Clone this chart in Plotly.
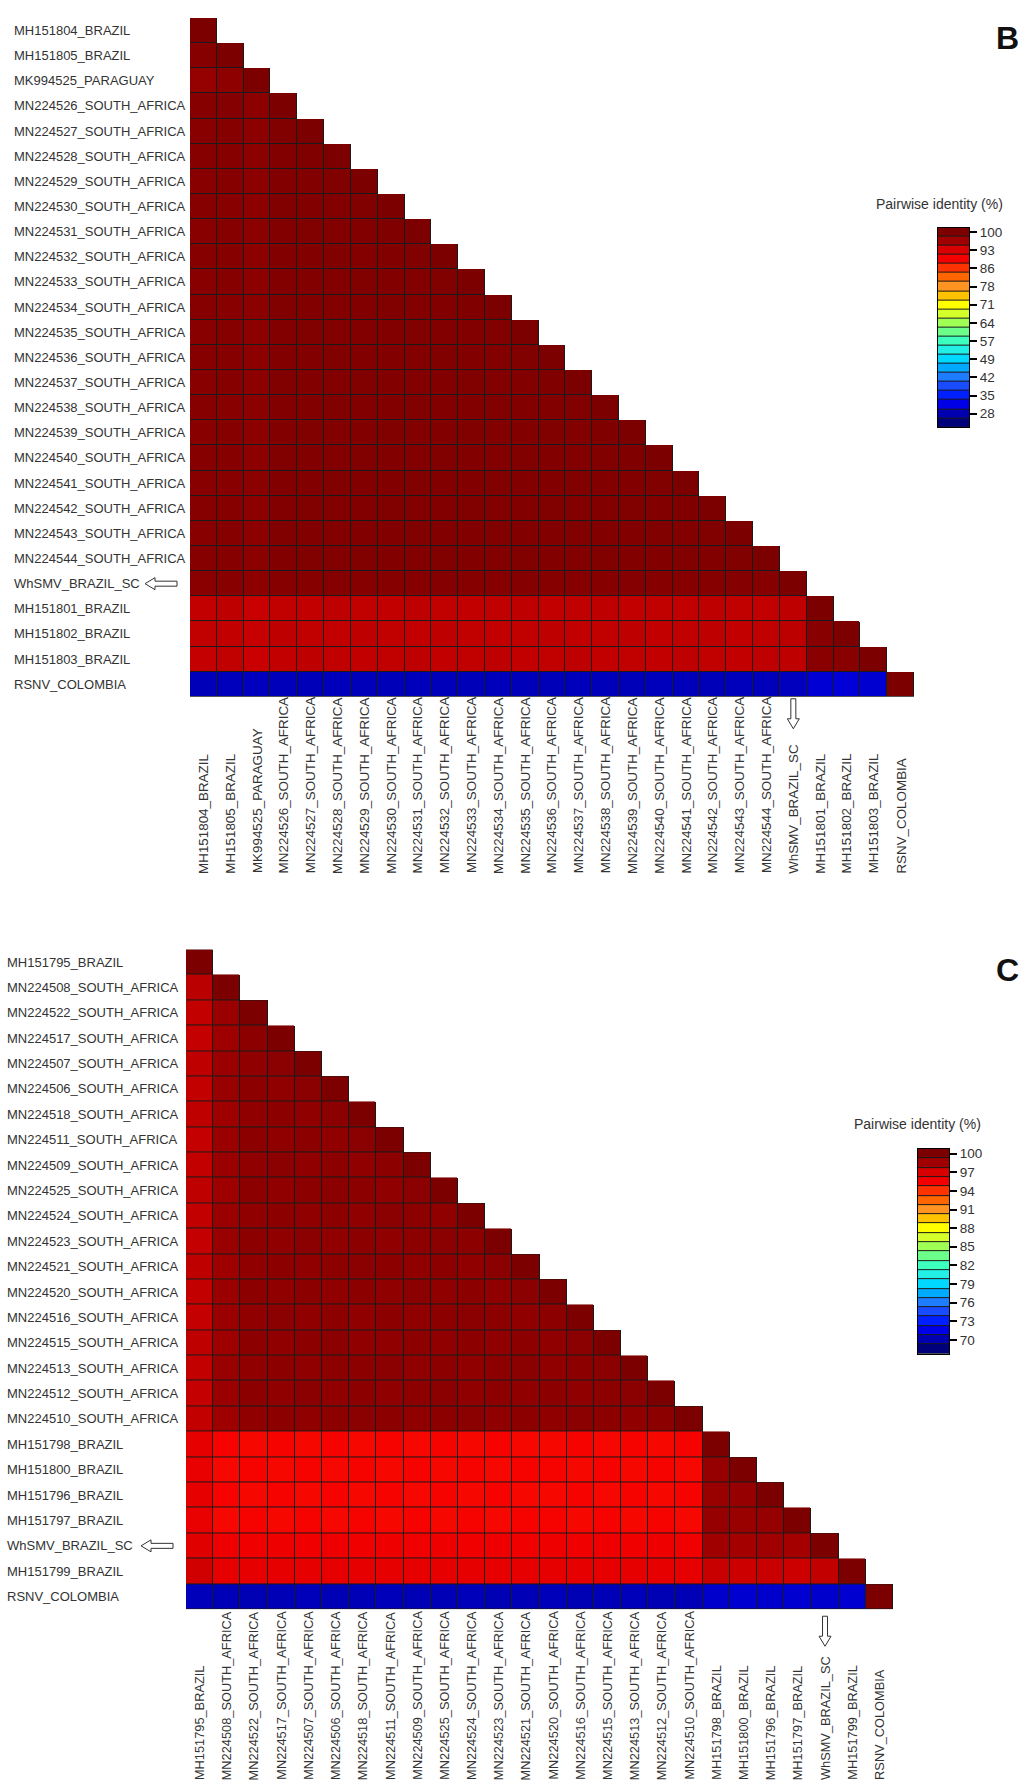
import plotly.graph_objects as go
import numpy as np

W, H = 1021, 1782

# ---------------- data: panel B ----------------
labels_B = [
    "MH151804_BRAZIL", "MH151805_BRAZIL", "MK994525_PARAGUAY",
    "MN224526_SOUTH_AFRICA", "MN224527_SOUTH_AFRICA", "MN224528_SOUTH_AFRICA",
    "MN224529_SOUTH_AFRICA", "MN224530_SOUTH_AFRICA", "MN224531_SOUTH_AFRICA",
    "MN224532_SOUTH_AFRICA", "MN224533_SOUTH_AFRICA", "MN224534_SOUTH_AFRICA",
    "MN224535_SOUTH_AFRICA", "MN224536_SOUTH_AFRICA", "MN224537_SOUTH_AFRICA",
    "MN224538_SOUTH_AFRICA", "MN224539_SOUTH_AFRICA", "MN224540_SOUTH_AFRICA",
    "MN224541_SOUTH_AFRICA", "MN224542_SOUTH_AFRICA", "MN224543_SOUTH_AFRICA",
    "MN224544_SOUTH_AFRICA", "WhSMV_BRAZIL_SC", "MH151801_BRAZIL",
    "MH151802_BRAZIL", "MH151803_BRAZIL", "RSNV_COLOMBIA",
]

identity_B = [
    [100],
    [99.1, 100],
    [97.5, 98.2, 100],
    [99.0, 99.2, 98.5, 100],
    [98.9, 99.1, 98.4, 99.6, 100],
    [99.0, 99.0, 98.6, 99.5, 99.7, 100],
    [98.8, 99.1, 98.4, 99.4, 99.5, 99.6, 100],
    [99.0, 98.9, 98.5, 99.6, 99.4, 99.5, 99.6, 100],
    [98.9, 99.0, 98.6, 99.5, 99.6, 99.4, 99.5, 99.7, 100],
    [99.1, 99.0, 98.4, 99.4, 99.5, 99.6, 99.3, 99.5, 99.6, 100],
    [98.9, 99.1, 98.5, 99.5, 99.4, 99.5, 99.6, 99.4, 99.5, 99.6, 100],
    [99.0, 98.9, 98.6, 99.6, 99.5, 99.4, 99.5, 99.6, 99.4, 99.5, 99.7, 100],
    [98.9, 99.0, 98.4, 99.4, 99.6, 99.5, 99.4, 99.5, 99.6, 99.4, 99.5, 99.6, 100],
    [99.0, 99.1, 98.5, 99.5, 99.4, 99.6, 99.5, 99.4, 99.5, 99.6, 99.4, 99.5, 99.6, 100],
    [98.8, 99.0, 98.5, 99.6, 99.5, 99.4, 99.6, 99.5, 99.4, 99.5, 99.6, 99.4, 99.5, 99.7, 100],
    [99.0, 98.9, 98.6, 99.4, 99.5, 99.6, 99.4, 99.5, 99.6, 99.4, 99.5, 99.6, 99.4, 99.5, 99.6, 100],
    [98.9, 99.1, 98.4, 99.5, 99.6, 99.5, 99.4, 99.6, 99.5, 99.4, 99.6, 99.5, 99.4, 99.6, 99.5, 99.7, 100],
    [99.1, 99.0, 98.5, 99.6, 99.4, 99.5, 99.6, 99.4, 99.5, 99.6, 99.4, 99.5, 99.6, 99.4, 99.5, 99.6, 99.7, 100],
    [98.9, 98.9, 98.6, 99.4, 99.5, 99.6, 99.5, 99.4, 99.6, 99.5, 99.4, 99.6, 99.5, 99.4, 99.6, 99.5, 99.4, 99.6, 100],
    [99.0, 99.0, 98.4, 99.5, 99.6, 99.4, 99.5, 99.6, 99.4, 99.5, 99.6, 99.4, 99.5, 99.6, 99.4, 99.5, 99.6, 99.5, 99.7, 100],
    [98.8, 99.1, 98.5, 99.6, 99.5, 99.5, 99.4, 99.5, 99.6, 99.4, 99.5, 99.6, 99.4, 99.5, 99.6, 99.4, 99.5, 99.6, 99.4, 99.6, 100],
    [99.0, 99.0, 98.6, 99.4, 99.6, 99.5, 99.6, 99.4, 99.5, 99.6, 99.4, 99.5, 99.6, 99.4, 99.5, 99.6, 99.4, 99.5, 99.6, 99.5, 99.6, 100],
    [98.7, 98.8, 98.3, 99.1, 99.0, 99.2, 99.1, 99.0, 99.1, 99.2, 99.0, 99.1, 99.2, 99.0, 99.1, 99.0, 99.2, 99.1, 99.0, 99.1, 99.2, 99.1, 100],
    [94.2, 94.4, 93.8, 94.3, 94.2, 94.4, 94.3, 94.2, 94.4, 94.3, 94.2, 94.3, 94.4, 94.2, 94.3, 94.4, 94.2, 94.3, 94.2, 94.4, 94.3, 94.2, 94.5, 100],
    [94.3, 94.2, 93.9, 94.4, 94.3, 94.2, 94.4, 94.3, 94.2, 94.4, 94.3, 94.2, 94.3, 94.4, 94.2, 94.3, 94.4, 94.2, 94.3, 94.4, 94.2, 94.3, 94.6, 98.9, 100],
    [94.1, 94.3, 93.7, 94.2, 94.4, 94.3, 94.2, 94.3, 94.4, 94.2, 94.3, 94.4, 94.2, 94.3, 94.4, 94.2, 94.3, 94.2, 94.4, 94.3, 94.2, 94.4, 94.5, 98.7, 98.8, 100],
    [28.6, 28.8, 28.9, 28.7, 28.6, 28.8, 28.7, 28.6, 28.8, 28.7, 28.6, 28.8, 28.7, 28.6, 28.8, 28.7, 28.6, 28.8, 28.7, 28.6, 28.8, 28.7, 28.9, 30.4, 30.6, 30.2, 100],
]

ticks_B = ["100", "93", "86", "78", "71", "64", "57", "49", "42", "35", "28"]

# ---------------- data: panel C ----------------
labels_C = [
    "MH151795_BRAZIL", "MN224508_SOUTH_AFRICA", "MN224522_SOUTH_AFRICA",
    "MN224517_SOUTH_AFRICA", "MN224507_SOUTH_AFRICA", "MN224506_SOUTH_AFRICA",
    "MN224518_SOUTH_AFRICA", "MN224511_SOUTH_AFRICA", "MN224509_SOUTH_AFRICA",
    "MN224525_SOUTH_AFRICA", "MN224524_SOUTH_AFRICA", "MN224523_SOUTH_AFRICA",
    "MN224521_SOUTH_AFRICA", "MN224520_SOUTH_AFRICA", "MN224516_SOUTH_AFRICA",
    "MN224515_SOUTH_AFRICA", "MN224513_SOUTH_AFRICA", "MN224512_SOUTH_AFRICA",
    "MN224510_SOUTH_AFRICA", "MH151798_BRAZIL", "MH151800_BRAZIL",
    "MH151796_BRAZIL", "MH151797_BRAZIL", "WhSMV_BRAZIL_SC",
    "MH151799_BRAZIL", "RSNV_COLOMBIA",
]

identity_C = [
    [100],
    [97.8, 100],
    [97.6, 98.7, 100],
    [97.5, 98.6, 99.3, 100],
    [97.7, 98.7, 99.2, 99.4, 100],
    [97.6, 98.8, 99.3, 99.2, 99.4, 100],
    [97.7, 98.6, 99.2, 99.3, 99.2, 99.4, 100],
    [97.5, 98.7, 99.3, 99.2, 99.3, 99.2, 99.4, 100],
    [97.6, 98.7, 99.2, 99.4, 99.2, 99.3, 99.2, 99.3, 100],
    [97.7, 98.6, 99.3, 99.2, 99.3, 99.4, 99.3, 99.2, 99.4, 100],
    [97.6, 98.7, 99.2, 99.3, 99.2, 99.3, 99.2, 99.4, 99.3, 99.2, 100],
    [97.5, 98.8, 99.3, 99.2, 99.4, 99.2, 99.3, 99.2, 99.3, 99.4, 99.3, 100],
    [97.7, 98.6, 99.2, 99.3, 99.2, 99.3, 99.4, 99.3, 99.2, 99.3, 99.2, 99.4, 100],
    [97.6, 98.7, 99.3, 99.2, 99.3, 99.2, 99.3, 99.2, 99.4, 99.2, 99.3, 99.2, 99.4, 100],
    [97.5, 98.7, 99.2, 99.4, 99.2, 99.3, 99.2, 99.3, 99.2, 99.3, 99.4, 99.3, 99.2, 99.3, 100],
    [97.7, 98.6, 99.3, 99.2, 99.3, 99.4, 99.2, 99.2, 99.3, 99.2, 99.3, 99.2, 99.3, 99.2, 99.4, 100],
    [97.6, 98.8, 99.2, 99.3, 99.2, 99.3, 99.3, 99.4, 99.2, 99.3, 99.2, 99.3, 99.4, 99.2, 99.3, 99.4, 100],
    [97.5, 98.7, 99.3, 99.2, 99.4, 99.2, 99.3, 99.2, 99.3, 99.4, 99.2, 99.3, 99.2, 99.3, 99.2, 99.3, 99.4, 100],
    [97.6, 98.6, 99.2, 99.3, 99.2, 99.3, 99.4, 99.3, 99.2, 99.3, 99.4, 99.2, 99.3, 99.2, 99.4, 99.3, 99.2, 99.3, 100],
    [96.2, 95.4, 95.3, 95.4, 95.3, 95.4, 95.3, 95.4, 95.3, 95.4, 95.3, 95.4, 95.3, 95.3, 95.4, 95.3, 95.4, 95.3, 95.4, 100],
    [96.1, 95.3, 95.4, 95.3, 95.4, 95.3, 95.4, 95.3, 95.4, 95.3, 95.4, 95.3, 95.4, 95.4, 95.3, 95.4, 95.3, 95.4, 95.3, 98.9, 100],
    [96.2, 95.4, 95.3, 95.4, 95.3, 95.4, 95.3, 95.4, 95.3, 95.4, 95.3, 95.4, 95.3, 95.3, 95.4, 95.3, 95.4, 95.3, 95.4, 98.8, 98.9, 100],
    [96.1, 95.3, 95.4, 95.3, 95.4, 95.3, 95.4, 95.3, 95.4, 95.3, 95.4, 95.3, 95.4, 95.4, 95.3, 95.4, 95.3, 95.4, 95.3, 98.9, 98.8, 98.9, 100],
    [96.6, 95.8, 95.7, 95.8, 95.7, 95.8, 95.7, 95.8, 95.7, 95.8, 95.7, 95.8, 95.7, 95.8, 95.7, 95.8, 95.7, 95.8, 95.7, 98.5, 98.4, 98.5, 98.4, 100],
    [97.2, 96.3, 96.2, 96.3, 96.2, 96.3, 96.2, 96.3, 96.2, 96.3, 96.2, 96.3, 96.2, 96.3, 96.2, 96.3, 96.2, 96.3, 96.2, 97.4, 97.3, 97.4, 97.3, 97.6, 100],
    [70.3, 70.2, 70.1, 70.2, 70.3, 70.1, 70.2, 70.3, 70.1, 70.2, 70.3, 70.1, 70.2, 70.3, 70.1, 70.2, 70.3, 70.1, 70.2, 70.8, 70.9, 70.8, 70.9, 70.8, 70.9, 100],
]

ticks_C = ["100", "97", "94", "91", "88", "85", "82", "79", "76", "73", "70"]

# legend band colours, from highest (top) to lowest (bottom)
band_colors = [
    "#7d0000", "#a00000", "#d80000", "#f50000", "#ff3300", "#ff6600",
    "#ff9422", "#ffc200", "#ffff00", "#d4ff2a", "#a0ff55", "#6cff8a",
    "#3dffbe", "#22f0e6", "#00d8ff", "#00aaff", "#1e7cff", "#1a4cff",
    "#0020ff", "#0000e6", "#0000b0", "#00007a",
]

# ---------------- helpers ----------------
FONT = "Liberation Sans, Arial, sans-serif"
TXT = "#333333"
EDGE = "#1a1a1a"


def px(x):
    return x / W


def py(y):
    return 1 - y / H


def colorscale(colors):
    n = len(colors)
    cs = [[0.0, colors[-1]]]
    for k in range(n):
        cs.append([(k + 0.5) / n, colors[n - 1 - k]])
    cs.append([1.0, colors[0]])
    return cs


def scale_range(tick_labels, nbands):
    top, bot = float(tick_labels[0]), float(tick_labels[-1])
    w = (top - bot) / (2 * (len(tick_labels) - 1))
    zmax = top + 0.5 * w
    zmin = zmax - nbands * w
    return zmin, zmax, w


def tri(rows):
    n = len(rows)
    return [[rows[i][j] if j <= i else None for j in range(n)] for i in range(n)]


CS = colorscale(band_colors)
NB = len(band_colors)

fig = go.Figure()

panels = [
    dict(labels=labels_B, rows=identity_B, ticks=ticks_B, ax="",
         dom_x=(190, 914), dom_y=(15, 695), ylab_x=12, xlab_bottom=874, xlab_size=13.4,
         leg_x=(938, 969), leg_y=(225, 425), title_xy=(939, 201),
         letter="B", letter_y=35, arrow_y_tip=145, arrow_x_tip=727),
    dict(labels=labels_C, rows=identity_C, ticks=ticks_C, ax="2",
         dom_x=(186, 893), dom_y=(948, 1609), ylab_x=5, xlab_bottom=1782, xlab_size=12.8,
         leg_x=(918, 949), leg_y=(1148, 1353), title_xy=(917, 1123),
         letter="C", letter_y=969, arrow_y_tip=141, arrow_x_tip=1646),
]

annotations = []
shapes = []
layout_axes = {}

for pi, p in enumerate(panels):
    labels = p["labels"]
    n = len(labels)
    z = tri(p["rows"])
    mask = [[0 if v is not None else None for v in row] for row in z]
    zmin, zmax, w = scale_range(p["ticks"], NB)

    xa = "x" + p["ax"]
    ya = "y" + p["ax"]

    # dark underlay gives the cell borders
    fig.add_trace(go.Heatmap(
        z=mask, x=labels, y=labels, xaxis=xa, yaxis=ya,
        colorscale=[[0, EDGE], [1, EDGE]], showscale=False, hoverinfo="skip"))
    fig.add_trace(go.Heatmap(
        z=z, x=labels, y=labels, xaxis=xa, yaxis=ya,
        colorscale=CS, zmin=zmin, zmax=zmax, showscale=False,
        xgap=1, ygap=1, name="Pairwise identity (%)",
        hovertemplate="%{y} / %{x}: %{z}%<extra></extra>"))

    layout_axes["xaxis" + p["ax"]] = dict(
        domain=[px(p["dom_x"][0]), px(p["dom_x"][1])], anchor=ya,
        type="category", categoryorder="array", categoryarray=labels,
        range=[-0.5, n - 0.5], showticklabels=False, showgrid=False,
        zeroline=False, ticks="", showline=False, fixedrange=True)
    layout_axes["yaxis" + p["ax"]] = dict(
        domain=[py(p["dom_y"][1]), py(p["dom_y"][0])], anchor=xa,
        type="category", categoryorder="array", categoryarray=labels,
        range=[n - 0.5, -0.5], showticklabels=False, showgrid=False,
        zeroline=False, ticks="", showline=False, fixedrange=True)

    # row labels (left-aligned)
    for i, lab in enumerate(labels):
        annotations.append(dict(
            text=lab, xref="paper", x=px(p["ylab_x"]), xanchor="left",
            yref=ya, y=i, yanchor="middle", showarrow=False,
            font=dict(family=FONT, size=13, color=TXT)))
    # column labels (rotated, bottom-aligned)
    for j, lab in enumerate(labels):
        annotations.append(dict(
            text=lab, xref=xa, x=j, xanchor="center",
            yref="paper", y=py(p["xlab_bottom"]), yanchor="bottom",
            textangle=-90, showarrow=False,
            font=dict(family=FONT, size=p["xlab_size"], color=TXT)))

    # hollow arrows pointing at the WhSMV sample
    idx = labels.index("WhSMV_BRAZIL_SC")
    shapes.append(dict(
        type="path", xref="paper", xsizemode="pixel", xanchor=px(p["arrow_y_tip"]),
        yref=ya, ysizemode="pixel", yanchor=idx,
        path="M0,0 L10,6 L10,2.5 L32,2.5 L32,-2.5 L10,-2.5 L10,-6 Z",
        line=dict(color=TXT, width=1), fillcolor="white"))
    shapes.append(dict(
        type="path", xref=xa, xsizemode="pixel", xanchor=idx,
        yref="paper", ysizemode="pixel", yanchor=py(p["arrow_x_tip"]),
        path="M0,0 L-6,10 L-2.5,10 L-2.5,30 L2.5,30 L2.5,10 L6,10 Z",
        line=dict(color=TXT, width=1), fillcolor="white"))

    # ---- colour key drawn as a banded strip ----
    lx = "x" + str(3 + pi)
    ly = "y" + str(3 + pi)
    centers = [zmin + (k + 0.5) * w for k in range(NB)]
    fig.add_trace(go.Heatmap(
        z=[[0] for _ in centers], x=[0], y=centers, xaxis=lx, yaxis=ly,
        colorscale=[[0, EDGE], [1, EDGE]], showscale=False, hoverinfo="skip"))
    fig.add_trace(go.Heatmap(
        z=[[c] for c in centers], x=[0], y=centers, xaxis=lx, yaxis=ly,
        colorscale=CS, zmin=zmin, zmax=zmax, showscale=False, ygap=1,
        hoverinfo="skip"))
    tickvals = list(np.linspace(float(p["ticks"][0]), float(p["ticks"][-1]), len(p["ticks"])))
    layout_axes["xaxis" + str(3 + pi)] = dict(
        domain=[px(p["leg_x"][0]), px(p["leg_x"][1])], anchor=ly,
        range=[-0.5, 0.5], showticklabels=False, showgrid=False, zeroline=False,
        ticks="", showline=True, mirror=True, linecolor="black", linewidth=1,
        fixedrange=True)
    layout_axes["yaxis" + str(3 + pi)] = dict(
        domain=[py(p["leg_y"][1]), py(p["leg_y"][0])], anchor=lx, side="right",
        range=[zmin, zmax], tickmode="array", tickvals=tickvals,
        ticktext=p["ticks"], ticks="outside", ticklen=7, tickwidth=2,
        tickcolor="black", showgrid=False, zeroline=False, showline=True,
        mirror=True, linecolor="black", linewidth=1, fixedrange=True,
        tickfont=dict(family=FONT, size=13.5, color=TXT))

    annotations.append(dict(
        text="Pairwise identity (%)", xref="paper", x=px(p["title_xy"][0]),
        xanchor="center", yref="paper", y=py(p["title_xy"][1]), yanchor="middle",
        showarrow=False, font=dict(family=FONT, size=14, color=TXT)))
    annotations.append(dict(
        text="<b>" + p["letter"] + "</b>", xref="paper", x=1.0,
        xanchor="right", yref="paper", y=py(p["letter_y"]), yanchor="middle",
        showarrow=False, font=dict(family=FONT, size=32, color="#111111")))

fig.update_layout(
    width=W, height=H, autosize=False,
    margin=dict(l=0, r=0, t=0, b=0, pad=0),
    paper_bgcolor="white", plot_bgcolor="white",
    showlegend=False, annotations=annotations, shapes=shapes,
    **layout_axes)

fig.write_html(
    "out.html",
    config={"displayModeBar": False},
    post_script="document.body.style.margin='0px';document.body.style.padding='0px';"
                "document.body.style.overflow='hidden';")
